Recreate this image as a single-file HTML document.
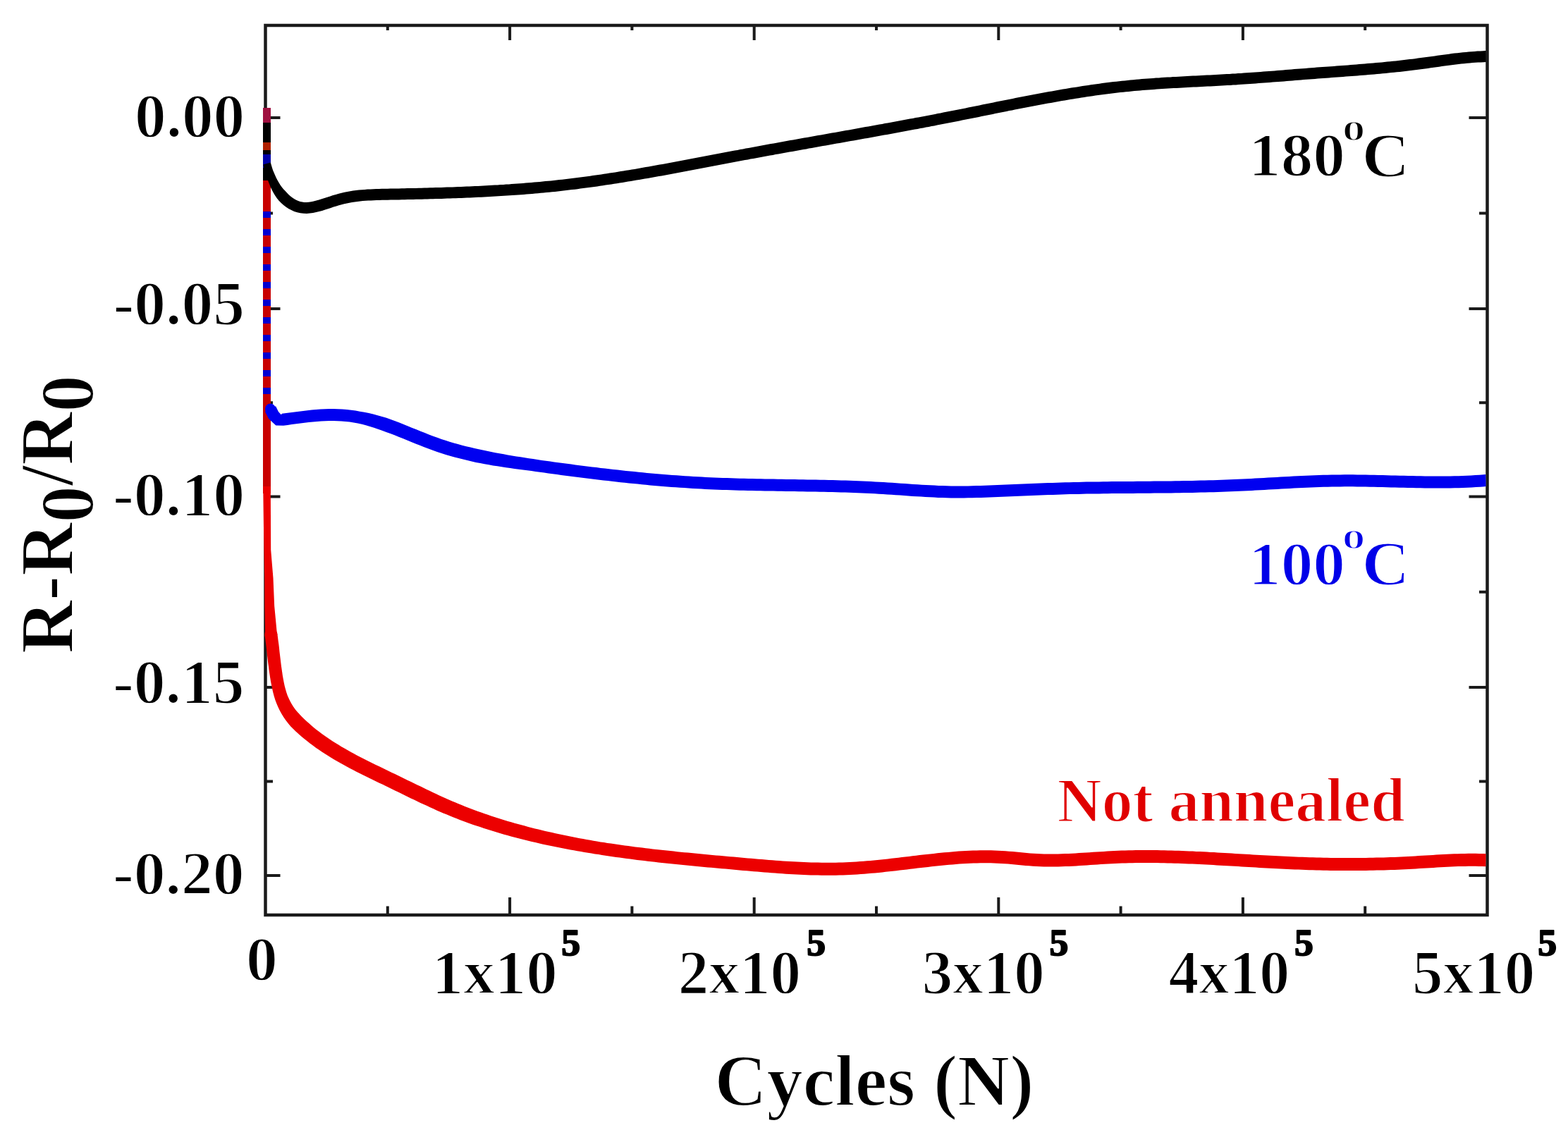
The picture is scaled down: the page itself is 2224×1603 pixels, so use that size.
<!DOCTYPE html>
<html><head><meta charset="utf-8"><title>R-R0/R0 vs Cycles</title>
<style>html,body{margin:0;padding:0;background:#fff;}body{width:2224px;height:1603px;overflow:hidden;}
svg{display:block;font-kerning:none;filter:blur(0.6px);}</style></head>
<body>
<svg width="2224" height="1603" viewBox="0 0 2224 1603" font-family="Liberation Serif, Times New Roman, serif" font-weight="bold"><rect x="376.5" y="36.0" width="1733.0" height="1262.0" fill="none" stroke="#1a1a1a" stroke-width="4.5"/>
<path d="M723.1 1298.0V1273.0M723.1 36.0V57.0M1069.7 1298.0V1273.0M1069.7 36.0V57.0M1416.3 1298.0V1273.0M1416.3 36.0V57.0M1762.9 1298.0V1273.0M1762.9 36.0V57.0M549.8 1298.0V1285.5M549.8 36.0V43.0M896.4 1298.0V1285.5M896.4 36.0V43.0M1243.0 1298.0V1285.5M1243.0 36.0V43.0M1589.6 1298.0V1285.5M1589.6 36.0V43.0M1936.2 1298.0V1285.5M1936.2 36.0V43.0M376.5 167.0H397.5M2109.5 167.0H2083.5M376.5 438.0H397.5M2109.5 438.0H2083.5M376.5 704.4H397.5M2109.5 704.4H2083.5M376.5 975.0H397.5M2109.5 975.0H2083.5M376.5 1242.0H397.5M2109.5 1242.0H2083.5M376.5 302.5H387.0M2109.5 302.5H2098.0M376.5 571.2H387.0M2109.5 571.2H2098.0M376.5 839.7H387.0M2109.5 839.7H2098.0M376.5 1108.5H387.0M2109.5 1108.5H2098.0" stroke="#1a1a1a" stroke-width="4" fill="none"/>
<defs><clipPath id="pc"><rect x="0" y="0" width="2107.5" height="1603"/></clipPath></defs>
<g clip-path="url(#pc)">
<path d="M378.5 153V700" stroke="#c80000" stroke-width="11" fill="none"/>
<path d="M373.2 690 L374.4 780 L375.2 820 L375.4 860 L376.2 900 L393 900 L389.2 860 L387.5 820 L384.2 780 L383.8 690Z" fill="#ec0000"/>
<path d="M375.5 901.3 L376.2 906.1 L376.8 911.0 L377.4 915.8 L378.0 920.7 L378.6 925.7 L379.1 930.7 L379.7 935.8 L380.3 940.9 L381.0 946.0 L381.6 951.1 L382.4 956.2 L383.2 961.4 L384.0 966.6 L385.0 971.8 L386.1 977.0 L387.3 982.2 L388.7 987.5 L390.3 992.7 L392.2 997.8 L394.3 1002.8 L396.7 1007.7 L399.3 1012.5 L402.2 1017.2 L405.3 1021.7 L408.6 1026.1 L412.1 1030.3 L415.9 1034.1 L419.7 1037.8 L423.6 1041.3 L427.5 1044.7 L431.5 1048.1 L435.6 1051.3 L439.6 1054.5 L443.8 1057.6 L448.0 1060.7 L452.2 1063.6 L456.5 1066.5 L460.8 1069.3 L465.2 1072.1 L469.5 1074.8 L474.0 1077.4 L478.4 1080.0 L482.9 1082.6 L487.4 1085.1 L491.9 1087.5 L496.4 1089.9 L500.9 1092.3 L505.5 1094.7 L510.1 1097.0 L514.6 1099.3 L519.2 1101.6 L523.8 1103.8 L528.4 1106.0 L532.9 1108.2 L537.5 1110.4 L542.1 1112.6 L546.6 1114.8 L551.2 1117.0 L555.7 1119.2 L560.2 1121.4 L564.7 1123.6 L569.2 1125.8 L573.7 1128.0 L578.2 1130.2 L582.7 1132.4 L587.3 1134.6 L591.8 1136.7 L596.3 1138.9 L600.9 1141.0 L605.5 1143.1 L610.0 1145.2 L614.6 1147.3 L619.2 1149.4 L623.9 1151.4 L628.5 1153.4 L633.2 1155.3 L637.9 1157.3 L642.6 1159.2 L647.3 1161.0 L652.0 1162.9 L656.8 1164.7 L661.6 1166.4 L666.3 1168.2 L671.1 1169.9 L675.9 1171.5 L680.8 1173.1 L685.6 1174.7 L690.4 1176.3 L695.3 1177.8 L700.2 1179.3 L705.0 1180.8 L709.9 1182.3 L714.8 1183.7 L719.7 1185.1 L724.7 1186.4 L729.6 1187.7 L734.5 1189.0 L739.4 1190.3 L744.4 1191.5 L749.3 1192.8 L754.3 1194.0 L759.2 1195.1 L764.2 1196.3 L769.2 1197.4 L774.1 1198.5 L779.1 1199.5 L784.1 1200.6 L789.0 1201.6 L794.0 1202.6 L799.0 1203.6 L804.0 1204.5 L809.0 1205.4 L813.9 1206.3 L818.9 1207.2 L823.9 1208.1 L828.9 1208.9 L833.9 1209.8 L838.9 1210.6 L843.9 1211.4 L848.8 1212.1 L853.8 1212.9 L858.8 1213.7 L863.8 1214.4 L868.8 1215.2 L873.8 1215.9 L878.8 1216.6 L883.8 1217.3 L888.8 1217.9 L893.8 1218.6 L898.8 1219.2 L903.8 1219.9 L908.8 1220.5 L913.8 1221.1 L918.8 1221.7 L923.8 1222.3 L928.8 1222.8 L933.8 1223.4 L938.8 1223.9 L943.8 1224.5 L948.8 1225.0 L953.8 1225.5 L958.8 1226.1 L963.8 1226.6 L968.8 1227.1 L973.8 1227.6 L978.8 1228.0 L983.8 1228.5 L988.8 1229.0 L993.9 1229.5 L998.9 1229.9 L1003.9 1230.4 L1008.9 1230.8 L1013.9 1231.3 L1018.9 1231.8 L1023.9 1232.2 L1028.9 1232.6 L1034.0 1233.1 L1039.0 1233.5 L1044.0 1234.0 L1049.0 1234.4 L1054.0 1234.9 L1059.0 1235.3 L1064.1 1235.7 L1069.1 1236.2 L1074.1 1236.6 L1079.1 1237.0 L1084.2 1237.4 L1089.2 1237.8 L1094.2 1238.2 L1099.3 1238.6 L1104.3 1239.0 L1109.4 1239.3 L1114.4 1239.7 L1119.5 1240.0 L1124.5 1240.3 L1129.6 1240.5 L1134.7 1240.8 L1139.7 1241.0 L1144.8 1241.2 L1149.9 1241.4 L1154.9 1241.5 L1160.0 1241.6 L1165.1 1241.7 L1170.2 1241.7 L1175.2 1241.8 L1180.3 1241.7 L1185.4 1241.7 L1190.5 1241.6 L1195.6 1241.4 L1200.6 1241.2 L1205.7 1241.0 L1210.8 1240.7 L1215.9 1240.4 L1220.9 1240.1 L1226.0 1239.7 L1231.0 1239.3 L1236.1 1238.8 L1241.1 1238.4 L1246.2 1237.9 L1251.2 1237.4 L1256.2 1236.8 L1261.3 1236.3 L1266.3 1235.7 L1271.3 1235.2 L1276.3 1234.6 L1281.3 1234.0 L1286.3 1233.4 L1291.3 1232.8 L1296.3 1232.2 L1301.3 1231.6 L1306.3 1231.0 L1311.3 1230.4 L1316.3 1229.9 L1321.3 1229.3 L1326.2 1228.8 L1331.2 1228.2 L1336.2 1227.7 L1341.1 1227.2 L1346.1 1226.8 L1351.0 1226.4 L1356.0 1226.0 L1360.9 1225.6 L1365.9 1225.3 L1370.8 1225.0 L1375.7 1224.7 L1380.7 1224.5 L1385.6 1224.4 L1390.5 1224.3 L1395.4 1224.3 L1400.3 1224.3 L1405.2 1224.3 L1410.1 1224.5 L1415.0 1224.7 L1419.9 1224.9 L1424.8 1225.3 L1429.8 1225.6 L1434.7 1226.1 L1439.7 1226.5 L1444.7 1227.0 L1449.8 1227.5 L1454.8 1227.9 L1459.9 1228.3 L1465.0 1228.7 L1470.2 1229.0 L1475.3 1229.3 L1480.5 1229.4 L1485.6 1229.5 L1490.7 1229.5 L1495.8 1229.5 L1501.0 1229.4 L1506.1 1229.3 L1511.1 1229.1 L1516.2 1228.9 L1521.3 1228.7 L1526.4 1228.4 L1531.4 1228.1 L1536.5 1227.8 L1541.5 1227.5 L1546.5 1227.1 L1551.5 1226.8 L1556.5 1226.5 L1561.5 1226.1 L1566.5 1225.8 L1571.5 1225.5 L1576.5 1225.3 L1581.5 1225.0 L1586.4 1224.8 L1591.4 1224.6 L1596.4 1224.5 L1601.3 1224.3 L1606.3 1224.2 L1611.3 1224.1 L1616.2 1224.1 L1621.2 1224.0 L1626.2 1224.0 L1631.2 1224.0 L1636.1 1224.1 L1641.1 1224.1 L1646.1 1224.2 L1651.1 1224.3 L1656.1 1224.4 L1661.0 1224.5 L1666.0 1224.7 L1671.0 1224.8 L1676.0 1225.0 L1681.0 1225.2 L1686.0 1225.4 L1691.0 1225.6 L1696.0 1225.8 L1701.0 1226.1 L1706.0 1226.3 L1711.0 1226.6 L1716.0 1226.8 L1721.0 1227.1 L1726.0 1227.4 L1731.0 1227.7 L1736.0 1228.0 L1741.0 1228.2 L1746.0 1228.5 L1751.1 1228.8 L1756.1 1229.1 L1761.1 1229.4 L1766.1 1229.7 L1771.1 1230.0 L1776.2 1230.3 L1781.2 1230.6 L1786.2 1230.9 L1791.2 1231.2 L1796.3 1231.5 L1801.3 1231.8 L1806.3 1232.0 L1811.4 1232.3 L1816.4 1232.5 L1821.4 1232.8 L1826.5 1233.0 L1831.5 1233.2 L1836.6 1233.4 L1841.6 1233.6 L1846.7 1233.8 L1851.7 1234.0 L1856.8 1234.2 L1861.8 1234.3 L1866.9 1234.4 L1871.9 1234.6 L1876.9 1234.7 L1882.0 1234.8 L1887.0 1234.9 L1892.1 1234.9 L1897.1 1235.0 L1902.2 1235.0 L1907.2 1235.1 L1912.3 1235.1 L1917.3 1235.1 L1922.4 1235.0 L1927.4 1235.0 L1932.5 1235.0 L1937.5 1234.9 L1942.6 1234.8 L1947.6 1234.7 L1952.7 1234.6 L1957.7 1234.5 L1962.8 1234.4 L1967.8 1234.2 L1972.9 1234.1 L1977.9 1233.9 L1983.0 1233.7 L1988.0 1233.4 L1993.1 1233.2 L1998.1 1233.0 L2003.1 1232.7 L2008.2 1232.4 L2013.2 1232.1 L2018.2 1231.8 L2023.2 1231.5 L2028.2 1231.2 L2033.3 1230.9 L2038.2 1230.6 L2043.2 1230.3 L2048.2 1230.0 L2053.2 1229.8 L2058.2 1229.5 L2063.1 1229.3 L2068.1 1229.1 L2073.0 1229.0 L2078.0 1228.9 L2082.9 1228.8 L2087.9 1228.8 L2092.8 1228.8 L2097.7 1228.9 L2102.7 1229.0 L2107.7 1229.2 L2108.3 1211.2 L2103.3 1211.1 L2098.1 1210.9 L2093.0 1210.8 L2087.9 1210.8 L2082.8 1210.8 L2077.7 1210.9 L2072.6 1211.0 L2067.5 1211.2 L2062.4 1211.3 L2057.4 1211.5 L2052.3 1211.8 L2047.3 1212.0 L2042.2 1212.3 L2037.2 1212.6 L2032.2 1212.9 L2027.1 1213.2 L2022.1 1213.5 L2017.1 1213.8 L2012.1 1214.1 L2007.1 1214.4 L2002.1 1214.7 L1997.2 1215.0 L1992.2 1215.2 L1987.2 1215.5 L1982.2 1215.7 L1977.2 1215.9 L1972.2 1216.1 L1967.2 1216.2 L1962.3 1216.4 L1957.3 1216.5 L1952.3 1216.6 L1947.3 1216.8 L1942.3 1216.8 L1937.3 1216.9 L1932.3 1217.0 L1927.3 1217.0 L1922.3 1217.0 L1917.3 1217.1 L1912.3 1217.1 L1907.3 1217.1 L1902.3 1217.0 L1897.3 1217.0 L1892.3 1216.9 L1887.3 1216.9 L1882.3 1216.8 L1877.3 1216.7 L1872.3 1216.6 L1867.3 1216.5 L1862.3 1216.3 L1857.3 1216.2 L1852.3 1216.0 L1847.3 1215.8 L1842.3 1215.7 L1837.3 1215.5 L1832.3 1215.2 L1827.3 1215.0 L1822.3 1214.8 L1817.3 1214.6 L1812.3 1214.3 L1807.3 1214.0 L1802.3 1213.8 L1797.3 1213.5 L1792.3 1213.2 L1787.2 1212.9 L1782.2 1212.7 L1777.2 1212.4 L1772.2 1212.1 L1767.2 1211.8 L1762.2 1211.5 L1757.1 1211.2 L1752.1 1210.9 L1747.1 1210.6 L1742.1 1210.3 L1737.1 1210.0 L1732.0 1209.7 L1727.0 1209.4 L1722.0 1209.1 L1717.0 1208.9 L1711.9 1208.6 L1706.9 1208.3 L1701.9 1208.1 L1696.8 1207.9 L1691.8 1207.6 L1686.7 1207.4 L1681.7 1207.2 L1676.7 1207.0 L1671.6 1206.8 L1666.6 1206.7 L1661.5 1206.5 L1656.5 1206.4 L1651.4 1206.3 L1646.4 1206.2 L1641.3 1206.1 L1636.3 1206.1 L1631.2 1206.0 L1626.2 1206.0 L1621.1 1206.0 L1616.1 1206.1 L1611.0 1206.1 L1606.0 1206.2 L1600.9 1206.3 L1595.8 1206.5 L1590.8 1206.6 L1585.7 1206.8 L1580.6 1207.0 L1575.6 1207.3 L1570.5 1207.6 L1565.5 1207.9 L1560.4 1208.2 L1555.4 1208.5 L1550.4 1208.8 L1545.3 1209.2 L1540.3 1209.5 L1535.3 1209.8 L1530.3 1210.1 L1525.4 1210.4 L1520.4 1210.7 L1515.4 1210.9 L1510.5 1211.1 L1505.5 1211.3 L1500.6 1211.4 L1495.6 1211.5 L1490.7 1211.5 L1485.8 1211.5 L1480.9 1211.4 L1476.0 1211.3 L1471.1 1211.0 L1466.2 1210.8 L1461.3 1210.4 L1456.4 1210.0 L1451.4 1209.5 L1446.4 1209.1 L1441.4 1208.6 L1436.3 1208.1 L1431.2 1207.7 L1426.1 1207.3 L1421.0 1207.0 L1415.9 1206.7 L1410.7 1206.5 L1405.6 1206.3 L1400.5 1206.3 L1395.4 1206.3 L1390.2 1206.3 L1385.1 1206.4 L1380.0 1206.6 L1374.9 1206.8 L1369.8 1207.0 L1364.8 1207.3 L1359.7 1207.6 L1354.6 1208.0 L1349.5 1208.4 L1344.5 1208.9 L1339.4 1209.3 L1334.4 1209.8 L1329.3 1210.3 L1324.3 1210.9 L1319.3 1211.4 L1314.2 1212.0 L1309.2 1212.6 L1304.2 1213.1 L1299.2 1213.7 L1294.2 1214.3 L1289.2 1214.9 L1284.2 1215.5 L1279.2 1216.1 L1274.2 1216.7 L1269.2 1217.3 L1264.3 1217.8 L1259.3 1218.4 L1254.3 1218.9 L1249.4 1219.5 L1244.4 1220.0 L1239.4 1220.5 L1234.5 1220.9 L1229.5 1221.3 L1224.6 1221.7 L1219.6 1222.1 L1214.7 1222.5 L1209.8 1222.8 L1204.8 1223.0 L1199.9 1223.2 L1195.0 1223.4 L1190.0 1223.6 L1185.1 1223.7 L1180.1 1223.7 L1175.2 1223.8 L1170.3 1223.8 L1165.3 1223.7 L1160.3 1223.6 L1155.4 1223.5 L1150.4 1223.4 L1145.5 1223.2 L1140.5 1223.0 L1135.5 1222.8 L1130.5 1222.6 L1125.6 1222.3 L1120.6 1222.0 L1115.6 1221.7 L1110.6 1221.4 L1105.6 1221.0 L1100.6 1220.7 L1095.6 1220.3 L1090.6 1219.9 L1085.6 1219.5 L1080.6 1219.1 L1075.6 1218.7 L1070.6 1218.2 L1065.6 1217.8 L1060.6 1217.4 L1055.6 1216.9 L1050.6 1216.5 L1045.6 1216.0 L1040.5 1215.6 L1035.5 1215.2 L1030.5 1214.7 L1025.5 1214.3 L1020.5 1213.8 L1015.5 1213.4 L1010.5 1212.9 L1005.5 1212.5 L1000.5 1212.0 L995.5 1211.5 L990.5 1211.1 L985.5 1210.6 L980.6 1210.1 L975.6 1209.6 L970.6 1209.2 L965.6 1208.7 L960.6 1208.2 L955.6 1207.6 L950.7 1207.1 L945.7 1206.6 L940.7 1206.1 L935.8 1205.5 L930.8 1205.0 L925.8 1204.4 L920.9 1203.8 L915.9 1203.2 L910.9 1202.6 L906.0 1202.0 L901.0 1201.4 L896.1 1200.7 L891.1 1200.1 L886.2 1199.4 L881.3 1198.7 L876.3 1198.1 L871.4 1197.3 L866.4 1196.6 L861.5 1195.9 L856.6 1195.1 L851.7 1194.4 L846.7 1193.5 L841.8 1192.7 L836.9 1191.8 L832.0 1191.0 L827.1 1190.1 L822.2 1189.2 L817.3 1188.2 L812.4 1187.3 L807.5 1186.3 L802.6 1185.3 L797.7 1184.3 L792.9 1183.3 L788.0 1182.2 L783.1 1181.1 L778.2 1180.0 L773.4 1178.9 L768.5 1177.8 L763.7 1176.6 L758.8 1175.4 L754.0 1174.2 L749.1 1172.9 L744.3 1171.6 L739.5 1170.3 L734.7 1169.0 L729.9 1167.7 L725.1 1166.3 L720.3 1164.9 L715.5 1163.4 L710.8 1162.0 L706.0 1160.5 L701.3 1159.0 L696.6 1157.4 L691.9 1155.8 L687.2 1154.2 L682.5 1152.6 L677.9 1150.9 L673.2 1149.2 L668.6 1147.5 L664.0 1145.7 L659.4 1143.9 L654.8 1142.1 L650.3 1140.2 L645.7 1138.3 L641.2 1136.4 L636.7 1134.5 L632.2 1132.5 L627.7 1130.4 L623.2 1128.4 L618.7 1126.3 L614.3 1124.2 L609.8 1122.1 L605.3 1119.9 L600.9 1117.8 L596.4 1115.6 L591.9 1113.5 L587.4 1111.3 L582.9 1109.1 L578.4 1106.9 L573.9 1104.7 L569.4 1102.5 L564.8 1100.3 L560.3 1098.1 L555.7 1095.9 L551.2 1093.7 L546.6 1091.5 L542.1 1089.3 L537.5 1087.1 L533.0 1084.9 L528.5 1082.7 L524.0 1080.5 L519.5 1078.2 L515.1 1076.0 L510.6 1073.7 L506.2 1071.4 L501.8 1069.0 L497.5 1066.7 L493.2 1064.3 L488.9 1061.8 L484.7 1059.4 L480.5 1056.8 L476.3 1054.3 L472.2 1051.7 L468.1 1049.0 L464.1 1046.3 L460.1 1043.5 L456.2 1040.7 L452.4 1037.8 L448.6 1034.9 L444.9 1031.9 L441.2 1028.8 L437.6 1025.6 L434.1 1022.4 L430.7 1019.2 L427.4 1015.9 L424.2 1012.6 L421.2 1009.3 L418.5 1005.9 L415.9 1002.3 L413.6 998.5 L411.4 994.6 L409.5 990.6 L407.7 986.4 L406.2 982.1 L404.9 977.6 L403.7 973.0 L402.7 968.3 L401.8 963.5 L400.9 958.6 L400.2 953.6 L399.5 948.7 L398.8 943.7 L398.2 938.7 L397.6 933.7 L397.0 928.7 L396.4 923.7 L395.9 918.6 L395.3 913.6 L394.6 908.7 L394.0 903.7 L393.3 898.8Z" fill="#ec0000"/>
<circle cx="384.4" cy="900.1" r="9" fill="#ec0000"/>
<path d="M378.5 300V560" stroke="#0000d0" stroke-width="11" stroke-dasharray="9 16" fill="none"/>
<path d="M375.9 583.8 L381.1 594.0 L391.3 603.5 L402.0 603.7 L408.1 602.9 L414.1 602.1 L420.1 601.3 L426.1 600.6 L432.0 599.8 L438.0 599.1 L443.9 598.4 L449.7 597.9 L455.5 597.5 L461.3 597.2 L467.1 597.0 L472.9 597.0 L478.7 597.2 L484.4 597.5 L490.2 598.0 L495.9 598.6 L501.7 599.4 L507.5 600.4 L513.2 601.7 L518.9 603.2 L524.6 604.9 L530.4 606.7 L536.1 608.7 L541.9 610.8 L547.8 612.9 L553.6 615.1 L559.6 617.3 L565.5 619.7 L571.4 622.1 L577.4 624.5 L583.4 626.9 L589.5 629.4 L595.5 631.8 L601.6 634.2 L607.7 636.5 L613.8 638.7 L619.9 640.9 L626.1 642.9 L632.2 644.9 L638.3 646.7 L644.5 648.4 L650.6 650.1 L656.7 651.6 L662.8 653.1 L668.9 654.5 L675.0 655.9 L681.1 657.1 L687.2 658.2 L693.3 659.3 L699.4 660.4 L705.5 661.3 L711.5 662.3 L717.6 663.2 L723.6 664.0 L729.7 664.9 L735.7 665.7 L741.7 666.5 L747.8 667.3 L753.8 668.1 L759.8 668.9 L765.8 669.7 L771.8 670.6 L777.8 671.4 L783.8 672.2 L789.9 673.1 L795.9 673.9 L801.9 674.7 L807.9 675.5 L813.9 676.3 L819.9 677.0 L825.9 677.8 L831.9 678.5 L838.0 679.3 L844.0 680.0 L850.0 680.7 L856.0 681.5 L862.0 682.1 L868.0 682.8 L874.1 683.5 L880.1 684.2 L886.1 684.8 L892.1 685.4 L898.1 686.0 L904.2 686.6 L910.2 687.2 L916.2 687.8 L922.2 688.4 L928.3 688.9 L934.3 689.4 L940.3 689.9 L946.3 690.4 L952.4 690.9 L958.4 691.3 L964.4 691.7 L970.4 692.1 L976.5 692.5 L982.5 692.9 L988.5 693.2 L994.6 693.6 L1000.6 693.9 L1006.6 694.2 L1012.6 694.4 L1018.7 694.7 L1024.7 694.9 L1030.7 695.1 L1036.7 695.3 L1042.8 695.5 L1048.8 695.7 L1054.8 695.8 L1060.8 695.9 L1066.8 696.1 L1072.8 696.2 L1078.8 696.3 L1084.9 696.4 L1090.9 696.5 L1096.9 696.6 L1102.9 696.7 L1108.9 696.8 L1114.9 696.9 L1120.9 697.0 L1126.9 697.1 L1132.9 697.2 L1138.9 697.3 L1144.9 697.4 L1150.9 697.5 L1156.8 697.6 L1162.8 697.7 L1168.8 697.8 L1174.8 697.9 L1180.8 698.1 L1186.8 698.2 L1192.8 698.4 L1198.7 698.6 L1204.7 698.8 L1210.7 699.0 L1216.7 699.2 L1222.6 699.5 L1228.6 699.7 L1234.6 700.0 L1240.5 700.3 L1246.5 700.7 L1252.5 701.0 L1258.5 701.4 L1264.4 701.8 L1270.4 702.2 L1276.4 702.6 L1282.4 703.0 L1288.4 703.4 L1294.4 703.9 L1300.5 704.3 L1306.5 704.6 L1312.5 705.0 L1318.6 705.3 L1324.6 705.6 L1330.7 705.9 L1336.7 706.1 L1342.8 706.3 L1348.9 706.4 L1354.9 706.5 L1361.0 706.5 L1367.1 706.4 L1373.1 706.3 L1379.2 706.2 L1385.2 706.1 L1391.3 705.9 L1397.3 705.7 L1403.3 705.5 L1409.3 705.3 L1415.3 705.1 L1421.3 704.8 L1427.4 704.6 L1433.4 704.3 L1439.4 704.1 L1445.4 703.8 L1451.4 703.5 L1457.4 703.3 L1463.4 703.0 L1469.3 702.8 L1475.3 702.5 L1481.3 702.3 L1487.3 702.1 L1493.3 701.9 L1499.3 701.7 L1505.3 701.5 L1511.2 701.3 L1517.2 701.1 L1523.2 701.0 L1529.2 700.9 L1535.2 700.7 L1541.2 700.6 L1547.1 700.5 L1553.1 700.4 L1559.1 700.4 L1565.1 700.3 L1571.1 700.2 L1577.1 700.1 L1583.1 700.1 L1589.1 700.0 L1595.1 700.0 L1601.1 699.9 L1607.1 699.9 L1613.1 699.8 L1619.1 699.8 L1625.1 699.7 L1631.1 699.7 L1637.1 699.6 L1643.1 699.6 L1649.1 699.5 L1655.1 699.4 L1661.1 699.4 L1667.1 699.3 L1673.1 699.2 L1679.1 699.1 L1685.2 699.0 L1691.2 698.9 L1697.2 698.8 L1703.2 698.6 L1709.2 698.5 L1715.2 698.3 L1721.3 698.2 L1727.3 698.0 L1733.3 697.8 L1739.3 697.6 L1745.3 697.3 L1751.4 697.1 L1757.4 696.8 L1763.4 696.5 L1769.4 696.2 L1775.4 695.9 L1781.5 695.6 L1787.5 695.2 L1793.5 694.9 L1799.5 694.6 L1805.5 694.2 L1811.5 693.9 L1817.5 693.5 L1823.5 693.2 L1829.5 692.9 L1835.4 692.6 L1841.4 692.3 L1847.4 692.0 L1853.4 691.7 L1859.3 691.5 L1865.3 691.2 L1871.3 691.0 L1877.2 690.8 L1883.2 690.7 L1889.2 690.5 L1895.1 690.4 L1901.1 690.4 L1907.0 690.3 L1913.0 690.3 L1918.9 690.3 L1924.9 690.4 L1930.9 690.5 L1936.9 690.5 L1942.8 690.7 L1948.8 690.8 L1954.8 690.9 L1960.8 691.1 L1966.8 691.2 L1972.8 691.4 L1978.8 691.5 L1984.8 691.7 L1990.8 691.8 L1996.8 692.0 L2002.8 692.1 L2008.8 692.2 L2014.9 692.3 L2020.9 692.4 L2026.9 692.5 L2033.0 692.5 L2039.0 692.6 L2045.0 692.5 L2051.1 692.5 L2057.1 692.4 L2063.2 692.3 L2069.2 692.2 L2075.3 692.0 L2081.4 691.7 L2087.4 691.4 L2093.5 691.1 L2099.6 690.7 L2105.7 690.2 L2108.7 690.0 L2107.3 673.0 L2104.3 673.3 L2098.4 673.7 L2092.5 674.1 L2086.6 674.4 L2080.6 674.7 L2074.7 675.0 L2068.8 675.2 L2062.8 675.3 L2056.9 675.4 L2050.9 675.5 L2045.0 675.5 L2039.0 675.6 L2033.0 675.5 L2027.1 675.5 L2021.1 675.4 L2015.1 675.3 L2009.2 675.2 L2003.2 675.1 L1997.2 675.0 L1991.2 674.8 L1985.2 674.7 L1979.2 674.5 L1973.2 674.4 L1967.2 674.2 L1961.2 674.1 L1955.2 673.9 L1949.2 673.8 L1943.2 673.7 L1937.1 673.5 L1931.1 673.5 L1925.1 673.4 L1919.1 673.3 L1913.0 673.3 L1907.0 673.3 L1900.9 673.4 L1894.9 673.4 L1888.8 673.5 L1882.8 673.7 L1876.8 673.8 L1870.7 674.0 L1864.7 674.2 L1858.7 674.5 L1852.6 674.7 L1846.6 675.0 L1840.6 675.3 L1834.6 675.6 L1828.5 675.9 L1822.5 676.2 L1816.5 676.6 L1810.5 676.9 L1804.5 677.2 L1798.5 677.6 L1792.5 677.9 L1786.5 678.3 L1780.5 678.6 L1774.6 678.9 L1768.6 679.2 L1762.6 679.5 L1756.6 679.8 L1750.6 680.1 L1744.7 680.3 L1738.7 680.6 L1732.7 680.8 L1726.7 681.0 L1720.7 681.2 L1714.8 681.3 L1708.8 681.5 L1702.8 681.6 L1696.8 681.8 L1690.8 681.9 L1684.8 682.0 L1678.9 682.1 L1672.9 682.2 L1666.9 682.3 L1660.9 682.4 L1654.9 682.4 L1648.9 682.5 L1642.9 682.6 L1636.9 682.6 L1630.9 682.7 L1624.9 682.7 L1618.9 682.8 L1612.9 682.8 L1606.9 682.9 L1600.9 682.9 L1594.9 683.0 L1588.9 683.0 L1582.9 683.1 L1576.9 683.1 L1570.9 683.2 L1564.9 683.3 L1558.9 683.4 L1552.9 683.4 L1546.9 683.5 L1540.8 683.6 L1534.8 683.8 L1528.8 683.9 L1522.8 684.0 L1516.8 684.2 L1510.8 684.3 L1504.7 684.5 L1498.7 684.7 L1492.7 684.9 L1486.7 685.1 L1480.7 685.3 L1474.7 685.5 L1468.7 685.8 L1462.6 686.0 L1456.6 686.3 L1450.6 686.6 L1444.6 686.8 L1438.6 687.1 L1432.6 687.3 L1426.6 687.6 L1420.7 687.8 L1414.7 688.1 L1408.7 688.3 L1402.7 688.5 L1396.7 688.7 L1390.7 688.9 L1384.8 689.1 L1378.8 689.2 L1372.9 689.4 L1366.9 689.4 L1361.0 689.5 L1355.1 689.5 L1349.1 689.4 L1343.2 689.3 L1337.3 689.1 L1331.3 688.9 L1325.4 688.6 L1319.4 688.3 L1313.5 688.0 L1307.5 687.7 L1301.5 687.3 L1295.6 686.9 L1289.6 686.5 L1283.6 686.1 L1277.6 685.7 L1271.6 685.2 L1265.6 684.8 L1259.5 684.4 L1253.5 684.1 L1247.5 683.7 L1241.5 683.4 L1235.4 683.1 L1229.4 682.8 L1223.4 682.5 L1217.3 682.2 L1211.3 682.0 L1205.3 681.8 L1199.3 681.6 L1193.2 681.4 L1187.2 681.2 L1181.2 681.1 L1175.2 680.9 L1169.2 680.8 L1163.2 680.7 L1157.2 680.6 L1151.1 680.5 L1145.1 680.4 L1139.1 680.3 L1133.1 680.2 L1127.1 680.1 L1121.1 680.0 L1115.1 679.9 L1109.1 679.8 L1103.1 679.7 L1097.1 679.6 L1091.1 679.5 L1085.1 679.4 L1079.2 679.3 L1073.2 679.2 L1067.2 679.1 L1061.2 679.0 L1055.2 678.8 L1049.2 678.7 L1043.2 678.5 L1037.3 678.3 L1031.3 678.1 L1025.3 677.9 L1019.3 677.7 L1013.4 677.4 L1007.4 677.2 L1001.4 676.9 L995.4 676.6 L989.5 676.3 L983.5 675.9 L977.5 675.6 L971.6 675.2 L965.6 674.8 L959.6 674.3 L953.6 673.9 L947.7 673.4 L941.7 673.0 L935.7 672.5 L929.7 671.9 L923.8 671.4 L917.8 670.9 L911.8 670.3 L905.8 669.7 L899.9 669.1 L893.9 668.5 L887.9 667.9 L881.9 667.3 L875.9 666.6 L870.0 665.9 L864.0 665.3 L858.0 664.6 L852.0 663.9 L846.0 663.1 L840.0 662.4 L834.1 661.7 L828.1 660.9 L822.1 660.2 L816.1 659.4 L810.1 658.6 L804.1 657.8 L798.1 657.0 L792.1 656.2 L786.2 655.4 L780.2 654.6 L774.2 653.7 L768.2 652.9 L762.2 652.1 L756.2 651.1 L750.2 650.2 L744.3 649.3 L738.3 648.3 L732.3 647.4 L726.4 646.4 L720.4 645.4 L714.5 644.3 L708.5 643.3 L702.6 642.2 L696.7 641.0 L690.8 639.8 L684.9 638.6 L679.0 637.3 L673.1 636.0 L667.2 634.6 L661.3 633.2 L655.4 631.7 L649.5 630.1 L643.7 628.5 L637.8 626.7 L631.9 624.8 L626.1 622.9 L620.2 620.8 L614.3 618.7 L608.4 616.4 L602.5 614.1 L596.5 611.7 L590.6 609.3 L584.6 606.9 L578.6 604.4 L572.5 602.0 L566.4 599.6 L560.4 597.3 L554.2 595.0 L548.1 592.8 L541.9 590.9 L535.6 589.2 L529.4 587.5 L523.1 586.1 L516.8 584.8 L510.5 583.7 L504.3 582.6 L498.1 581.7 L491.8 581.0 L485.6 580.5 L479.3 580.2 L473.1 580.0 L466.9 580.0 L460.7 580.2 L454.5 580.5 L448.3 581.0 L442.1 581.5 L436.0 582.2 L430.0 582.9 L423.9 583.7 L417.9 584.5 L411.9 585.3 L405.9 586.0 L400.0 586.8 L398.7 588.2 L394.9 584.0 L391.1 576.2Z" fill="#0000f0"/>
<circle cx="383.5" cy="580.0" r="7.5" fill="#0000f0"/>
<rect x="373.0" y="153" width="11" height="21" fill="#a01040"/>
<rect x="373.0" y="174" width="11" height="28" fill="#000"/>
<rect x="373.0" y="202" width="11" height="11" fill="#b02000"/>
<rect x="373.0" y="213" width="11" height="6" fill="#000"/>
<rect x="373.0" y="219" width="11" height="19" fill="#0000a8"/>
<rect x="373.0" y="238" width="11" height="18" fill="#000"/>
<path d="M373.2 233.6 L374.2 237.2 L375.4 241.0 L376.5 244.9 L377.7 248.9 L379.0 252.9 L380.4 257.0 L382.0 261.1 L383.7 265.2 L385.6 269.3 L387.7 273.3 L390.1 277.2 L392.6 281.0 L395.4 284.5 L398.6 287.8 L401.9 290.8 L405.5 293.5 L409.2 296.0 L413.2 298.1 L417.3 299.9 L421.5 301.3 L426.0 302.3 L430.5 302.8 L435.1 302.9 L439.6 302.6 L444.0 302.0 L448.4 301.1 L452.7 300.1 L456.9 298.9 L461.1 297.6 L465.2 296.2 L469.2 294.9 L473.1 293.6 L476.9 292.4 L480.7 291.3 L484.5 290.3 L488.2 289.3 L491.9 288.4 L495.6 287.7 L499.3 287.0 L503.1 286.4 L506.9 285.9 L510.7 285.5 L514.5 285.1 L518.4 284.8 L522.3 284.6 L526.2 284.4 L530.1 284.2 L534.0 284.0 L538.0 283.9 L542.0 283.8 L546.0 283.8 L550.0 283.7 L554.0 283.6 L558.0 283.5 L562.0 283.4 L566.0 283.4 L570.0 283.3 L574.1 283.2 L578.1 283.1 L582.1 283.0 L586.1 282.9 L590.1 282.8 L594.2 282.8 L598.2 282.7 L602.2 282.6 L606.2 282.5 L610.2 282.3 L614.3 282.2 L618.3 282.1 L622.3 282.0 L626.3 281.9 L630.3 281.7 L634.4 281.6 L638.4 281.5 L642.4 281.3 L646.4 281.2 L650.4 281.0 L654.5 280.9 L658.5 280.7 L662.5 280.6 L666.5 280.4 L670.6 280.2 L674.6 280.0 L678.6 279.8 L682.6 279.7 L686.6 279.4 L690.7 279.2 L694.7 279.0 L698.7 278.8 L702.7 278.6 L706.7 278.3 L710.8 278.1 L714.8 277.8 L718.8 277.6 L722.8 277.3 L726.8 277.0 L730.9 276.8 L734.9 276.5 L738.9 276.2 L742.9 275.9 L746.9 275.5 L750.9 275.2 L755.0 274.9 L759.0 274.5 L763.0 274.2 L767.0 273.8 L771.0 273.5 L775.0 273.1 L779.0 272.7 L783.0 272.3 L787.1 271.9 L791.1 271.4 L795.1 271.0 L799.1 270.6 L803.1 270.1 L807.1 269.6 L811.1 269.1 L815.1 268.7 L819.1 268.2 L823.1 267.6 L827.1 267.1 L831.1 266.6 L835.1 266.1 L839.1 265.5 L843.1 265.0 L847.1 264.4 L851.0 263.8 L855.0 263.2 L859.0 262.6 L863.0 262.0 L867.0 261.4 L871.0 260.8 L874.9 260.2 L878.9 259.6 L882.9 258.9 L886.9 258.3 L890.8 257.6 L894.8 257.0 L898.8 256.3 L902.8 255.6 L906.7 255.0 L910.7 254.3 L914.7 253.6 L918.6 252.9 L922.6 252.2 L926.5 251.5 L930.5 250.8 L934.5 250.1 L938.4 249.4 L942.4 248.7 L946.3 247.9 L950.3 247.2 L954.2 246.5 L958.2 245.7 L962.1 245.0 L966.1 244.3 L970.0 243.5 L974.0 242.8 L977.9 242.0 L981.9 241.3 L985.8 240.6 L989.8 239.8 L993.7 239.1 L997.7 238.3 L1001.6 237.6 L1005.5 236.8 L1009.5 236.1 L1013.4 235.3 L1017.4 234.5 L1021.3 233.8 L1025.2 233.0 L1029.2 232.3 L1033.1 231.6 L1037.1 230.8 L1041.0 230.1 L1044.9 229.3 L1048.9 228.6 L1052.8 227.8 L1056.7 227.1 L1060.7 226.4 L1064.6 225.6 L1068.6 224.9 L1072.5 224.2 L1076.4 223.5 L1080.4 222.7 L1084.3 222.0 L1088.3 221.3 L1092.2 220.6 L1096.2 219.9 L1100.1 219.1 L1104.0 218.4 L1108.0 217.7 L1111.9 217.0 L1115.9 216.3 L1119.8 215.6 L1123.8 214.9 L1127.7 214.2 L1131.7 213.5 L1135.6 212.8 L1139.6 212.1 L1143.5 211.4 L1147.4 210.6 L1151.4 209.9 L1155.3 209.2 L1159.3 208.5 L1163.2 207.8 L1167.2 207.1 L1171.1 206.4 L1175.1 205.7 L1179.0 205.0 L1183.0 204.3 L1186.9 203.6 L1190.9 202.9 L1194.8 202.2 L1198.8 201.5 L1202.7 200.8 L1206.7 200.1 L1210.6 199.4 L1214.6 198.7 L1218.5 198.0 L1222.5 197.3 L1226.4 196.6 L1230.4 195.9 L1234.3 195.2 L1238.3 194.5 L1242.2 193.7 L1246.2 193.0 L1250.2 192.3 L1254.1 191.6 L1258.1 190.9 L1262.0 190.2 L1266.0 189.4 L1269.9 188.7 L1273.9 188.0 L1277.8 187.3 L1281.8 186.5 L1285.7 185.8 L1289.7 185.1 L1293.6 184.3 L1297.6 183.6 L1301.5 182.9 L1305.5 182.1 L1309.4 181.4 L1313.4 180.6 L1317.3 179.9 L1321.3 179.1 L1325.2 178.4 L1329.1 177.6 L1333.1 176.8 L1337.0 176.1 L1341.0 175.3 L1344.9 174.5 L1348.9 173.8 L1352.8 173.0 L1356.8 172.2 L1360.7 171.4 L1364.7 170.6 L1368.6 169.8 L1372.5 169.1 L1376.5 168.3 L1380.4 167.5 L1384.4 166.7 L1388.3 165.9 L1392.2 165.1 L1396.2 164.3 L1400.1 163.5 L1404.0 162.7 L1408.0 161.9 L1411.9 161.1 L1415.9 160.3 L1419.8 159.5 L1423.7 158.7 L1427.7 157.9 L1431.6 157.1 L1435.5 156.4 L1439.4 155.6 L1443.4 154.8 L1447.3 154.0 L1451.2 153.3 L1455.2 152.5 L1459.1 151.7 L1463.0 151.0 L1467.0 150.2 L1470.9 149.5 L1474.8 148.8 L1478.8 148.0 L1482.7 147.3 L1486.6 146.6 L1490.6 145.9 L1494.5 145.2 L1498.4 144.5 L1502.4 143.8 L1506.3 143.1 L1510.2 142.4 L1514.2 141.7 L1518.1 141.1 L1522.0 140.4 L1526.0 139.8 L1529.9 139.2 L1533.9 138.6 L1537.8 137.9 L1541.7 137.3 L1545.7 136.8 L1549.6 136.2 L1553.6 135.6 L1557.5 135.1 L1561.5 134.5 L1565.4 134.0 L1569.4 133.5 L1573.3 133.0 L1577.3 132.5 L1581.2 132.0 L1585.2 131.6 L1589.1 131.1 L1593.1 130.7 L1597.0 130.3 L1601.0 129.9 L1604.9 129.5 L1608.9 129.1 L1612.9 128.8 L1616.8 128.4 L1620.8 128.1 L1624.8 127.8 L1628.8 127.5 L1632.8 127.2 L1636.7 126.9 L1640.7 126.6 L1644.7 126.3 L1648.7 126.1 L1652.7 125.8 L1656.7 125.6 L1660.7 125.3 L1664.7 125.1 L1668.7 124.9 L1672.7 124.7 L1676.7 124.4 L1680.7 124.2 L1684.7 124.0 L1688.7 123.8 L1692.7 123.6 L1696.8 123.4 L1700.8 123.2 L1704.8 123.0 L1708.8 122.8 L1712.8 122.6 L1716.8 122.4 L1720.9 122.2 L1724.9 122.0 L1728.9 121.8 L1732.9 121.5 L1736.9 121.3 L1741.0 121.1 L1745.0 120.9 L1749.0 120.6 L1753.0 120.4 L1757.0 120.1 L1761.1 119.8 L1765.1 119.6 L1769.1 119.3 L1773.1 119.0 L1777.1 118.7 L1781.1 118.4 L1785.1 118.1 L1789.1 117.8 L1793.1 117.5 L1797.1 117.2 L1801.1 116.9 L1805.1 116.6 L1809.1 116.3 L1813.1 116.0 L1817.1 115.7 L1821.1 115.4 L1825.1 115.0 L1829.1 114.7 L1833.1 114.4 L1837.1 114.1 L1841.1 113.8 L1845.1 113.5 L1849.1 113.1 L1853.1 112.8 L1857.1 112.5 L1861.1 112.2 L1865.1 111.9 L1869.0 111.6 L1873.0 111.3 L1877.0 111.0 L1881.0 110.7 L1885.0 110.4 L1889.0 110.1 L1893.0 109.8 L1897.0 109.5 L1901.0 109.2 L1905.0 108.9 L1909.1 108.6 L1913.1 108.3 L1917.1 108.0 L1921.1 107.7 L1925.1 107.4 L1929.1 107.1 L1933.1 106.7 L1937.1 106.4 L1941.1 106.1 L1945.1 105.7 L1949.1 105.4 L1953.2 105.0 L1957.2 104.7 L1961.2 104.3 L1965.2 103.9 L1969.2 103.5 L1973.2 103.1 L1977.2 102.7 L1981.2 102.3 L1985.3 101.9 L1989.3 101.4 L1993.3 101.0 L1997.3 100.5 L2001.3 100.0 L2005.3 99.5 L2009.3 99.0 L2013.3 98.5 L2017.3 98.0 L2021.3 97.4 L2025.3 96.9 L2029.3 96.3 L2033.3 95.8 L2037.2 95.2 L2041.2 94.7 L2045.2 94.1 L2049.1 93.6 L2053.1 93.0 L2057.1 92.5 L2061.0 92.0 L2064.9 91.5 L2068.9 91.1 L2072.8 90.6 L2076.8 90.2 L2080.7 89.8 L2084.6 89.5 L2088.6 89.1 L2092.5 88.8 L2096.4 88.6 L2100.4 88.4 L2104.3 88.2 L2108.3 88.0 L2107.7 72.0 L2103.7 72.2 L2099.6 72.4 L2095.5 72.6 L2091.4 72.9 L2087.3 73.2 L2083.2 73.5 L2079.2 73.9 L2075.1 74.3 L2071.1 74.7 L2067.1 75.2 L2063.0 75.6 L2059.0 76.1 L2055.0 76.7 L2051.0 77.2 L2047.0 77.7 L2043.0 78.3 L2039.0 78.8 L2035.0 79.4 L2031.1 79.9 L2027.1 80.5 L2023.1 81.0 L2019.2 81.6 L2015.2 82.1 L2011.2 82.6 L2007.3 83.2 L2003.3 83.7 L1999.4 84.1 L1995.4 84.6 L1991.5 85.1 L1987.5 85.5 L1983.5 86.0 L1979.6 86.4 L1975.6 86.8 L1971.6 87.2 L1967.6 87.6 L1963.7 88.0 L1959.7 88.4 L1955.7 88.7 L1951.7 89.1 L1947.7 89.4 L1943.8 89.8 L1939.8 90.1 L1935.8 90.5 L1931.8 90.8 L1927.8 91.1 L1923.8 91.4 L1919.8 91.7 L1915.8 92.1 L1911.8 92.4 L1907.8 92.7 L1903.8 93.0 L1899.9 93.3 L1895.9 93.6 L1891.9 93.9 L1887.9 94.2 L1883.9 94.5 L1879.9 94.8 L1875.8 95.0 L1871.8 95.3 L1867.8 95.6 L1863.8 95.9 L1859.8 96.3 L1855.8 96.6 L1851.8 96.9 L1847.8 97.2 L1843.8 97.5 L1839.8 97.8 L1835.8 98.1 L1831.8 98.5 L1827.8 98.8 L1823.8 99.1 L1819.9 99.4 L1815.9 99.7 L1811.9 100.0 L1807.9 100.4 L1803.9 100.7 L1799.9 101.0 L1795.9 101.3 L1791.9 101.6 L1787.9 101.9 L1783.9 102.2 L1779.9 102.5 L1776.0 102.8 L1772.0 103.1 L1768.0 103.3 L1764.0 103.6 L1760.0 103.9 L1756.0 104.1 L1752.0 104.4 L1748.0 104.6 L1744.0 104.9 L1740.0 105.1 L1736.0 105.3 L1732.0 105.6 L1728.0 105.8 L1724.0 106.0 L1720.0 106.2 L1716.0 106.4 L1712.0 106.6 L1708.0 106.8 L1704.0 107.0 L1700.0 107.2 L1696.0 107.4 L1691.9 107.6 L1687.9 107.8 L1683.9 108.0 L1679.9 108.3 L1675.9 108.5 L1671.8 108.7 L1667.8 108.9 L1663.8 109.1 L1659.8 109.4 L1655.7 109.6 L1651.7 109.8 L1647.7 110.1 L1643.7 110.4 L1639.6 110.6 L1635.6 110.9 L1631.6 111.2 L1627.6 111.5 L1623.5 111.8 L1619.5 112.1 L1615.5 112.5 L1611.5 112.8 L1607.4 113.2 L1603.4 113.6 L1599.4 114.0 L1595.4 114.4 L1591.4 114.8 L1587.4 115.2 L1583.3 115.7 L1579.3 116.1 L1575.3 116.6 L1571.3 117.1 L1567.3 117.6 L1563.3 118.1 L1559.3 118.7 L1555.3 119.2 L1551.3 119.8 L1547.3 120.3 L1543.4 120.9 L1539.4 121.5 L1535.4 122.1 L1531.4 122.7 L1527.4 123.4 L1523.4 124.0 L1519.5 124.6 L1515.5 125.3 L1511.5 126.0 L1507.6 126.6 L1503.6 127.3 L1499.6 128.0 L1495.6 128.7 L1491.7 129.4 L1487.7 130.1 L1483.8 130.8 L1479.8 131.6 L1475.8 132.3 L1471.9 133.0 L1467.9 133.8 L1464.0 134.5 L1460.0 135.3 L1456.1 136.0 L1452.1 136.8 L1448.2 137.6 L1444.2 138.3 L1440.3 139.1 L1436.3 139.9 L1432.4 140.7 L1428.5 141.5 L1424.5 142.2 L1420.6 143.0 L1416.6 143.8 L1412.7 144.6 L1408.8 145.4 L1404.8 146.2 L1400.9 147.0 L1396.9 147.8 L1393.0 148.6 L1389.1 149.4 L1385.1 150.2 L1381.2 151.0 L1377.3 151.8 L1373.3 152.6 L1369.4 153.4 L1365.5 154.2 L1361.5 154.9 L1357.6 155.7 L1353.7 156.5 L1349.7 157.3 L1345.8 158.1 L1341.9 158.8 L1337.9 159.6 L1334.0 160.4 L1330.1 161.1 L1326.1 161.9 L1322.2 162.7 L1318.2 163.4 L1314.3 164.2 L1310.4 164.9 L1306.4 165.7 L1302.5 166.4 L1298.6 167.1 L1294.6 167.9 L1290.7 168.6 L1286.7 169.3 L1282.8 170.1 L1278.9 170.8 L1274.9 171.5 L1271.0 172.3 L1267.0 173.0 L1263.1 173.7 L1259.1 174.4 L1255.2 175.1 L1251.2 175.9 L1247.3 176.6 L1243.4 177.3 L1239.4 178.0 L1235.5 178.7 L1231.5 179.4 L1227.6 180.1 L1223.6 180.8 L1219.7 181.5 L1215.7 182.3 L1211.8 183.0 L1207.8 183.7 L1203.9 184.4 L1199.9 185.1 L1196.0 185.8 L1192.0 186.5 L1188.1 187.2 L1184.1 187.9 L1180.2 188.6 L1176.2 189.3 L1172.3 190.0 L1168.3 190.7 L1164.4 191.4 L1160.4 192.1 L1156.5 192.8 L1152.5 193.5 L1148.6 194.2 L1144.6 194.9 L1140.7 195.6 L1136.7 196.3 L1132.8 197.0 L1128.8 197.7 L1124.9 198.4 L1120.9 199.1 L1117.0 199.8 L1113.0 200.5 L1109.1 201.3 L1105.1 202.0 L1101.2 202.7 L1097.2 203.4 L1093.3 204.1 L1089.3 204.8 L1085.4 205.6 L1081.4 206.3 L1077.5 207.0 L1073.5 207.7 L1069.6 208.4 L1065.7 209.2 L1061.7 209.9 L1057.8 210.6 L1053.8 211.4 L1049.9 212.1 L1045.9 212.9 L1042.0 213.6 L1038.0 214.3 L1034.1 215.1 L1030.1 215.8 L1026.2 216.6 L1022.3 217.3 L1018.3 218.1 L1014.4 218.8 L1010.4 219.6 L1006.5 220.3 L1002.5 221.1 L998.6 221.8 L994.7 222.6 L990.7 223.3 L986.8 224.1 L982.8 224.8 L978.9 225.6 L975.0 226.3 L971.0 227.1 L967.1 227.8 L963.2 228.5 L959.2 229.3 L955.3 230.0 L951.3 230.7 L947.4 231.5 L943.5 232.2 L939.5 232.9 L935.6 233.6 L931.6 234.3 L927.7 235.0 L923.7 235.7 L919.8 236.4 L915.9 237.1 L911.9 237.8 L908.0 238.5 L904.0 239.2 L900.1 239.9 L896.1 240.5 L892.2 241.2 L888.2 241.8 L884.3 242.5 L880.3 243.1 L876.4 243.8 L872.4 244.4 L868.5 245.0 L864.5 245.6 L860.6 246.2 L856.6 246.8 L852.7 247.4 L848.7 248.0 L844.8 248.5 L840.8 249.1 L836.9 249.7 L832.9 250.2 L829.0 250.7 L825.0 251.3 L821.0 251.8 L817.1 252.3 L813.1 252.8 L809.2 253.3 L805.2 253.7 L801.2 254.2 L797.3 254.7 L793.3 255.1 L789.4 255.5 L785.4 255.9 L781.4 256.4 L777.5 256.8 L773.5 257.1 L769.5 257.5 L765.5 257.9 L761.6 258.3 L757.6 258.6 L753.6 258.9 L749.6 259.3 L745.7 259.6 L741.7 259.9 L737.7 260.2 L733.7 260.5 L729.7 260.8 L725.7 261.1 L721.8 261.4 L717.8 261.6 L713.8 261.9 L709.8 262.1 L705.8 262.4 L701.8 262.6 L697.8 262.8 L693.8 263.0 L689.8 263.3 L685.8 263.5 L681.8 263.7 L677.8 263.9 L673.8 264.1 L669.8 264.2 L665.8 264.4 L661.8 264.6 L657.8 264.7 L653.8 264.9 L649.8 265.1 L645.8 265.2 L641.8 265.4 L637.8 265.5 L633.8 265.6 L629.8 265.8 L625.8 265.9 L621.8 266.0 L617.8 266.1 L613.8 266.2 L609.8 266.3 L605.8 266.5 L601.8 266.6 L597.8 266.7 L593.8 266.8 L589.8 266.9 L585.7 266.9 L581.7 267.0 L577.7 267.1 L573.7 267.2 L569.7 267.3 L565.7 267.4 L561.7 267.5 L557.7 267.5 L553.7 267.6 L549.7 267.7 L545.6 267.8 L541.6 267.8 L537.6 267.9 L533.5 268.1 L529.5 268.2 L525.4 268.4 L521.3 268.6 L517.2 268.9 L513.1 269.2 L509.0 269.6 L504.9 270.1 L500.8 270.6 L496.7 271.2 L492.6 272.0 L488.5 272.8 L484.4 273.8 L480.4 274.8 L476.3 275.9 L472.3 277.1 L468.2 278.4 L464.2 279.7 L460.2 281.0 L456.2 282.3 L452.4 283.5 L448.6 284.6 L444.9 285.5 L441.3 286.2 L437.9 286.7 L434.7 286.9 L431.6 286.9 L428.7 286.5 L425.8 285.9 L423.0 285.0 L420.2 283.7 L417.5 282.2 L414.8 280.5 L412.2 278.4 L409.6 276.2 L407.2 273.7 L404.7 271.1 L402.2 268.4 L399.8 265.5 L397.6 262.4 L395.5 259.1 L393.6 255.7 L391.8 252.2 L390.1 248.6 L388.6 245.0 L387.1 241.4 L385.9 237.7 L384.8 234.1 L383.8 230.6Z" fill="#000"/>
<circle cx="2108.0" cy="80.0" r="8" fill="#000"/>
</g>
<text x="191.00" y="193.83" font-size="88.77" fill="#000" stroke="#fff" stroke-width="2.00" stroke-linejoin="round" textLength="156.20" lengthAdjust="spacingAndGlyphs">0.00</text>
<text x="160.42" y="459.84" font-size="87.88" fill="#000" stroke="#fff" stroke-width="2.00" stroke-linejoin="round" textLength="186.66" lengthAdjust="spacingAndGlyphs">-0.05</text>
<text x="159.91" y="730.84" font-size="87.88" fill="#000" stroke="#fff" stroke-width="2.00" stroke-linejoin="round" textLength="187.32" lengthAdjust="spacingAndGlyphs">-0.10</text>
<text x="159.92" y="997.34" font-size="88.03" fill="#000" stroke="#fff" stroke-width="2.00" stroke-linejoin="round" textLength="186.66" lengthAdjust="spacingAndGlyphs">-0.15</text>
<text x="159.92" y="1267.85" font-size="87.28" fill="#000" stroke="#fff" stroke-width="2.00" stroke-linejoin="round" textLength="186.80" lengthAdjust="spacingAndGlyphs">-0.20</text>
<text x="349.09" y="1389.94" font-size="87.88" fill="#000" stroke="#fff" stroke-width="2.00" stroke-linejoin="round" textLength="44.83" lengthAdjust="spacingAndGlyphs">0</text>
<text x="612.88" y="1408.74" font-size="87.88" fill="#000" stroke="#fff" stroke-width="2.00" stroke-linejoin="round" textLength="177.81" lengthAdjust="spacingAndGlyphs">1x10</text>
<text x="796.35" y="1354.99" font-size="52.31" fill="#000" stroke="#000" stroke-width="2.00" stroke-linejoin="round" paint-order="stroke" textLength="26.81" lengthAdjust="spacingAndGlyphs">5</text>
<text x="961.84" y="1408.74" font-size="87.88" fill="#000" stroke="#fff" stroke-width="2.00" stroke-linejoin="round" textLength="174.28" lengthAdjust="spacingAndGlyphs">2x10</text>
<text x="1144.15" y="1354.99" font-size="52.31" fill="#000" stroke="#000" stroke-width="2.00" stroke-linejoin="round" paint-order="stroke" textLength="26.81" lengthAdjust="spacingAndGlyphs">5</text>
<text x="1307.73" y="1408.74" font-size="87.88" fill="#000" stroke="#fff" stroke-width="2.00" stroke-linejoin="round" textLength="173.88" lengthAdjust="spacingAndGlyphs">3x10</text>
<text x="1488.45" y="1354.99" font-size="52.31" fill="#000" stroke="#000" stroke-width="2.00" stroke-linejoin="round" paint-order="stroke" textLength="26.81" lengthAdjust="spacingAndGlyphs">5</text>
<text x="1657.53" y="1408.74" font-size="87.88" fill="#000" stroke="#fff" stroke-width="2.00" stroke-linejoin="round" textLength="171.74" lengthAdjust="spacingAndGlyphs">4x10</text>
<text x="1836.05" y="1354.99" font-size="52.31" fill="#000" stroke="#000" stroke-width="2.00" stroke-linejoin="round" paint-order="stroke" textLength="26.81" lengthAdjust="spacingAndGlyphs">5</text>
<text x="2003.11" y="1408.74" font-size="87.88" fill="#000" stroke="#fff" stroke-width="2.00" stroke-linejoin="round" textLength="174.10" lengthAdjust="spacingAndGlyphs">5x10</text>
<text x="2181.35" y="1354.99" font-size="52.31" fill="#000" stroke="#000" stroke-width="2.00" stroke-linejoin="round" paint-order="stroke" textLength="26.81" lengthAdjust="spacingAndGlyphs">5</text>
<text x="1013.39" y="1567.58" font-size="104.19" fill="#000" stroke="#fff" stroke-width="2.00" stroke-linejoin="round" textLength="452.92" lengthAdjust="spacingAndGlyphs">Cycles (N)</text>
<g transform="translate(101.6,925.50) rotate(-90) scale(0.9662,1)">
<text x="-1.85" y="1.00" font-size="108.24" fill="#000" stroke="#fff" stroke-width="2.00" stroke-linejoin="round">R-R<tspan dy="29">0</tspan><tspan dy="-29">/R</tspan><tspan dy="29">0</tspan></text>
</g>
<text x="1771.09" y="249.44" font-size="87.73" fill="#000" stroke="#fff" stroke-width="2.00" stroke-linejoin="round" textLength="136.88" lengthAdjust="spacingAndGlyphs">180</text>
<text x="1904.04" y="198.64" font-size="57.59" fill="#000" stroke="#fff" stroke-width="2.00" stroke-linejoin="round" textLength="32.32" lengthAdjust="spacingAndGlyphs">o</text>
<text x="1931.42" y="249.73" font-size="89.45" fill="#000" stroke="#fff" stroke-width="2.00" stroke-linejoin="round" textLength="67.72" lengthAdjust="spacingAndGlyphs">C</text>
<text x="1771.09" y="829.14" font-size="87.73" fill="#0000e8" stroke="#fff" stroke-width="2.00" stroke-linejoin="round" textLength="136.88" lengthAdjust="spacingAndGlyphs">100</text>
<text x="1903.81" y="778.46" font-size="55.10" fill="#0000e8" stroke="#fff" stroke-width="2.00" stroke-linejoin="round" textLength="32.68" lengthAdjust="spacingAndGlyphs">o</text>
<text x="1931.42" y="829.43" font-size="89.30" fill="#0000e8" stroke="#fff" stroke-width="2.00" stroke-linejoin="round" textLength="67.72" lengthAdjust="spacingAndGlyphs">C</text>
<text x="1499.53" y="1165.30" font-size="88.73" fill="#e00000" stroke="#fff" stroke-width="2.00" stroke-linejoin="round" textLength="493.35" lengthAdjust="spacingAndGlyphs">Not annealed</text></svg>
</body></html>
